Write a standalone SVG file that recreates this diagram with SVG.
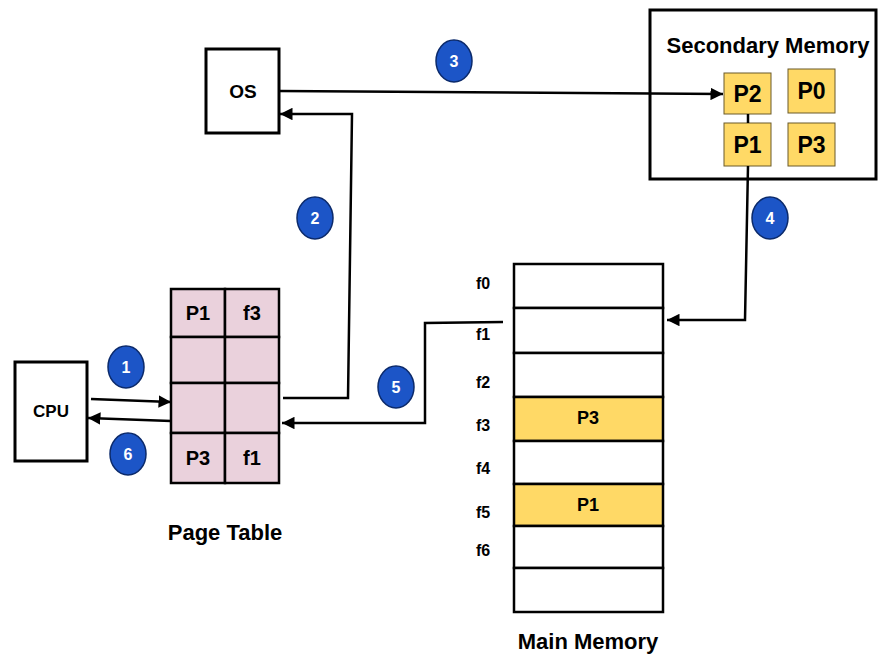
<svg xmlns="http://www.w3.org/2000/svg" width="879" height="655" viewBox="0 0 879 655">
<style>
text{font-family:"Liberation Sans",Arial,sans-serif;font-weight:bold;fill:#000;text-anchor:middle;dominant-baseline:central}
.box{fill:#fff;stroke:#000;stroke-width:3}
.pt{fill:#ead1dc;stroke:#000;stroke-width:2.5}
.y{fill:#ffd966;stroke:#6b5a2a;stroke-width:1}
.my{fill:#ffd966;stroke:#000;stroke-width:2.5}
.mw{fill:#fff;stroke:#000;stroke-width:2.5}
.badge{fill:#1c55c7;stroke:#0b2a6b;stroke-width:1.5}
.bt{fill:#fff;font-size:16px}
.c{fill:none;stroke:#000;stroke-width:2.5}
.sm{font-size:23px}
.fl{font-size:16px}
</style>
<defs>
<marker id="ah" viewBox="0 0 10 10" refX="10" refY="5" markerWidth="5" markerHeight="5" orient="auto" markerUnits="strokeWidth">
<path d="M0,0 L10,5 L0,10 z" fill="#000"/>
</marker>
</defs>
<rect width="879" height="655" fill="#fff"/>

<g id="os">
<rect class="box" x="206" y="49" width="73" height="84"/>
<text x="243" y="91" font-size="19">OS</text>
</g>

<g id="secondary-memory">
<rect class="box" x="650" y="10" width="226" height="169"/>
<text x="768" y="45" font-size="22">Secondary Memory</text>
<g id="sm-p2"><rect class="y" x="724" y="73" width="47" height="41"/><text class="sm" x="747.5" y="94">P2</text></g>
<g id="sm-p0"><rect class="y" x="788" y="69" width="47" height="44"/><text class="sm" x="811.5" y="91">P0</text></g>
<g id="sm-p1"><rect class="y" x="724" y="123" width="47" height="43"/><text class="sm" x="747.5" y="144.5">P1</text></g>
<g id="sm-p3"><rect class="y" x="788" y="123" width="47" height="43"/><text class="sm" x="811.5" y="144.5">P3</text></g>
</g>

<g id="cpu">
<rect class="box" x="15" y="362" width="72" height="99"/>
<text x="51" y="411" font-size="17">CPU</text>
</g>

<g id="page-table">
<rect class="pt" x="171" y="289" width="54" height="48"/>
<rect class="pt" x="225" y="289" width="54" height="48"/>
<rect class="pt" x="171" y="337" width="54" height="46"/>
<rect class="pt" x="225" y="337" width="54" height="46"/>
<rect class="pt" x="171" y="383" width="54" height="50"/>
<rect class="pt" x="225" y="383" width="54" height="50"/>
<rect class="pt" x="171" y="433" width="54" height="50"/>
<rect class="pt" x="225" y="433" width="54" height="50"/>
<text x="198" y="313" font-size="20">P1</text>
<text x="252" y="313" font-size="20">f3</text>
<text x="198" y="458" font-size="20">P3</text>
<text x="252" y="458" font-size="20">f1</text>
<text x="225" y="532" font-size="22">Page Table</text>
</g>

<g id="main-memory">
<rect class="mw" x="514" y="264" width="149" height="44"/>
<rect class="mw" x="514" y="308" width="149" height="45"/>
<rect class="mw" x="514" y="353" width="149" height="44"/>
<rect class="my" x="514" y="397" width="149" height="44"/>
<rect class="mw" x="514" y="441" width="149" height="43"/>
<rect class="my" x="514" y="484" width="149" height="42"/>
<rect class="mw" x="514" y="526" width="149" height="42"/>
<rect class="mw" x="514" y="568" width="149" height="44"/>
<text x="588" y="418" font-size="18">P3</text>
<text x="588" y="505" font-size="18">P1</text>
<text class="fl" x="483" y="283">f0</text>
<text class="fl" x="483" y="334">f1</text>
<text class="fl" x="483" y="382">f2</text>
<text class="fl" x="483" y="425">f3</text>
<text class="fl" x="483" y="468">f4</text>
<text class="fl" x="483" y="512">f5</text>
<text class="fl" x="483" y="550">f6</text>
<text x="588" y="641" font-size="22">Main Memory</text>
</g>

<g id="connectors">
<path class="c" d="M279,91 L723,94" marker-end="url(#ah)"/>
<path class="c" d="M283,398 L348,398 L352,114 L280,114" marker-end="url(#ah)"/>
<path class="c" d="M748,114 L748,123"/>
<path class="c" d="M748,166 L745,320 L667,320" marker-end="url(#ah)"/>
<path class="c" d="M503,322 L425,323 L425,423 L282,423" marker-end="url(#ah)"/>
<path class="c" d="M91,399 L171,402" marker-end="url(#ah)"/>
<path class="c" d="M171,421 L88,418" marker-end="url(#ah)"/>
</g>

<g id="badges">
<g id="b1"><ellipse class="badge" cx="126" cy="367" rx="18" ry="21"/><text class="bt" x="126" y="367">1</text></g>
<g id="b2"><ellipse class="badge" cx="315" cy="218" rx="18" ry="21"/><text class="bt" x="315" y="218">2</text></g>
<g id="b3"><ellipse class="badge" cx="454" cy="61" rx="18" ry="21"/><text class="bt" x="454" y="61">3</text></g>
<g id="b4"><ellipse class="badge" cx="770" cy="218" rx="18" ry="21"/><text class="bt" x="770" y="218">4</text></g>
<g id="b5"><ellipse class="badge" cx="396" cy="387" rx="18" ry="21"/><text class="bt" x="396" y="387">5</text></g>
<g id="b6"><ellipse class="badge" cx="128" cy="454" rx="18" ry="21"/><text class="bt" x="128" y="454">6</text></g>
</g>
</svg>
